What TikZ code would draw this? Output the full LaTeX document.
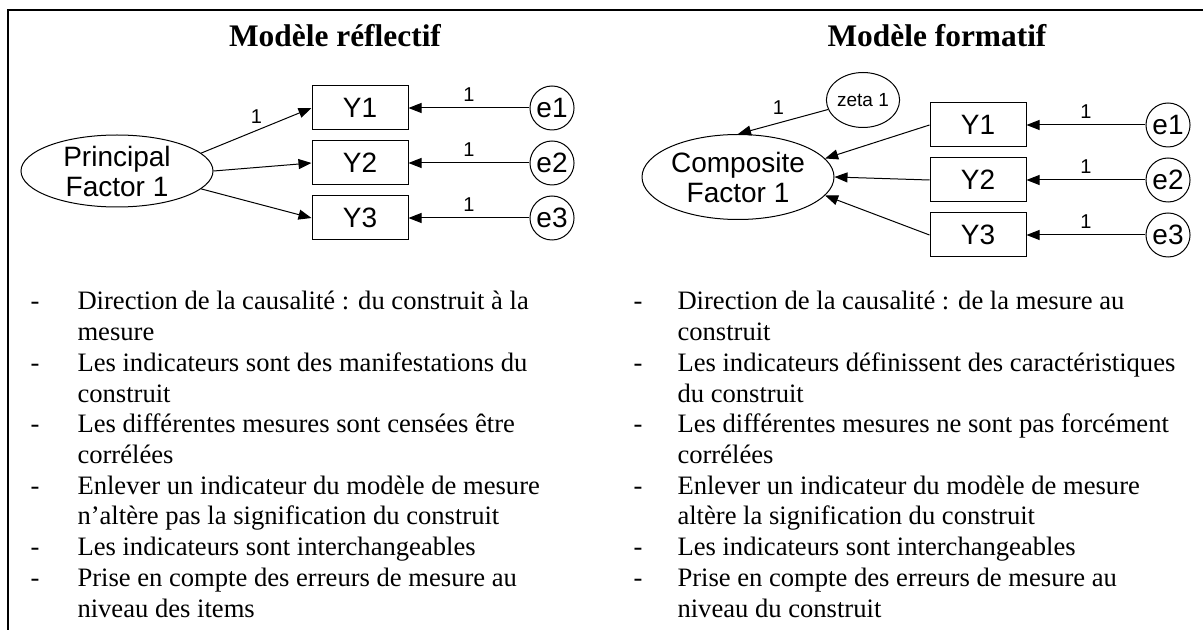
\documentclass[tikz,border=0pt]{standalone}
\usepackage{fontspec}
\setmainfont{Liberation Serif}
\setsansfont{Liberation Sans}
\usetikzlibrary{shapes.geometric,arrows.meta}

\tikzset{
  obs/.style={draw,rectangle,minimum width=48pt,minimum height=22pt,inner sep=0pt,font=\sffamily\fontsize{14}{15}\selectfont},
  err/.style={draw,ellipse,minimum width=22pt,minimum height=22pt,inner sep=0pt,font=\sffamily\fontsize{14}{15}\selectfont},
  lat/.style={draw,ellipse,inner sep=0pt,align=center,font=\sffamily\fontsize{14}{15}\selectfont},
  arr/.style={-{Triangle[length=6.5pt,width=5pt]}},
  wt/.style={font=\sffamily\fontsize{10}{12}\selectfont,inner sep=1pt},
  ttl/.style={anchor=base,inner sep=0pt,font=\bfseries\fontsize{15.7}{18}\selectfont},
  item/.style={anchor=base west,inner sep=0pt,align=left,font=\fontsize{13.3}{15.35}\selectfont}
}

\begin{document}
\begin{tikzpicture}[x=0.5pt,y=-0.5pt,line width=0.5pt]
\useasboundingbox (0,0) rectangle (1203,630);
%frame
\draw[line width=1.25pt] (8,630)--(8,10)--(1203,10);
%titles
\node[ttl] (tRef) at (335,47) {Modèle réflectif};
\node[ttl] (tFor) at (937,47) {Modèle formatif};
%
%reflective model
\node[lat,minimum width=96pt,minimum height=36pt] (PF) at (117,171) {Principal\\Factor 1};
\node[obs] (rY1) at (360,108) {Y1};
\node[obs] (rY2) at (360,163) {Y2};
\node[obs] (rY3) at (360,218) {Y3};
\node[err] (re1) at (552,108) {e1};
\node[err] (re2) at (552,163) {e2};
\node[err] (re3) at (552,218) {e3};
\draw[arr] (PF.12)--(rY1.west) node[wt,midway,above=2.5pt] (rw0) {1};
\draw[arr] (PF.0)--(rY2.west);
\draw[arr] (PF.-12)--(rY3.west);
\draw[arr] (re1)--(rY1.east) node[wt,midway,above=2pt] (rw1) {1};
\draw[arr] (re2)--(rY2.east) node[wt,midway,above=2pt] (rw2) {1};
\draw[arr] (re3)--(rY3.east) node[wt,midway,above=2pt] (rw3) {1};
%
%formative model
\node[lat,minimum width=96pt,minimum height=42.5pt] (CF) at (738,177) {Composite\\Factor 1};
\node[err,minimum width=33pt,minimum height=27.5pt,font=\sffamily\fontsize{9.5}{11}\selectfont] (zeta) at (863,100) {zeta 1};
\node[obs] (fY1) at (978,125) {Y1};
\node[obs] (fY2) at (978,180) {Y2};
\node[obs] (fY3) at (978,235) {Y3};
\node[err] (fe1) at (1168,125) {e1};
\node[err] (fe2) at (1168,180) {e2};
\node[err] (fe3) at (1168,235) {e3};
\draw[arr] (zeta)--(CF.north) node[wt,pos=0.55,above=3pt] (fw0) {1};
\draw[arr] (fY1.west)--(CF.12);
\draw[arr] (fY2.west)--(CF.0);
\draw[arr] (fY3.west)--(CF.-12);
\draw[arr] (fe1)--(fY1.east) node[wt,midway,above=2pt] (fw1) {1};
\draw[arr] (fe2)--(fY2.east) node[wt,midway,above=2pt] (fw2) {1};
\draw[arr] (fe3)--(fY3.east) node[wt,midway,above=2pt] (fw3) {1};
%
%bullets (base = last line of each item)
\foreach \k in {0,2,4,6,8,9}{
  \node[item] (hL\k) at (30,{310+30.7*\k}) {-};
  \node[item] (hR\k) at (633,{310+30.7*\k}) {-};
}
\node[item] (iL0) at (77,340.7) {Direction de la causalité : du construit à la\\mesure};
\node[item] (iL2) at (77,402.1) {Les indicateurs sont des manifestations du\\construit};
\node[item] (iL4) at (77,463.5) {Les différentes mesures sont censées être\\corrélées};
\node[item] (iL6) at (77,524.9) {Enlever un indicateur du modèle de mesure\\n’altère pas la signification du construit};
\node[item] (iL8) at (77,555.6) {Les indicateurs sont interchangeables};
\node[item] (iL9) at (77,617) {Prise en compte des erreurs de mesure au\\niveau des items};
%
\node[item] (iR0) at (677,340.7) {Direction de la causalité : de la mesure au\\construit};
\node[item] (iR2) at (677,402.1) {Les indicateurs définissent des caractéristiques\\du construit};
\node[item] (iR4) at (677,463.5) {Les différentes mesures ne sont pas forcément\\corrélées};
\node[item] (iR6) at (677,524.9) {Enlever un indicateur du modèle de mesure\\altère la signification du construit};
\node[item] (iR8) at (677,555.6) {Les indicateurs sont interchangeables};
\node[item] (iR9) at (677,617) {Prise en compte des erreurs de mesure au\\niveau du construit};
\end{tikzpicture}
\end{document}
